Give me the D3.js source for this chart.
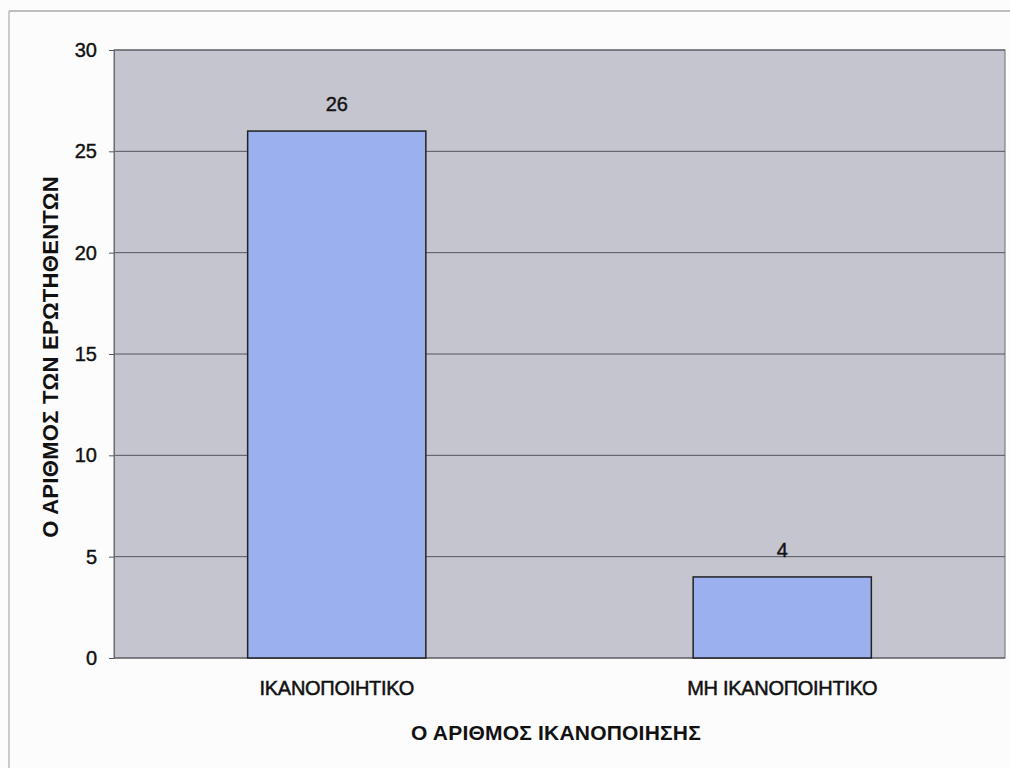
<!DOCTYPE html>
<html><head><meta charset="utf-8">
<script src="https://cdn.jsdelivr.net/npm/d3@7"></script>
<style>body{margin:0;background:#fcfcfd;}svg{display:block;}</style>
</head><body>
<script>
const categories = ["ΙΚΑΝΟΠΟΙΗΤΙΚΟ", "ΜΗ ΙΚΑΝΟΠΟΙΗΤΙΚΟ"];
const values = [26, 4];
const yTicks = [0, 5, 10, 15, 20, 25, 30];
const xTitle = "Ο ΑΡΙΘΜΟΣ ΙΚΑΝΟΠΟΙΗΣΗΣ";
const yTitle = "Ο ΑΡΙΘΜΟΣ ΤΩΝ ΕΡΩΤΗΘΕΝΤΩΝ";

const W = 1010, H = 768;
const m = {left: 114, right: 5, top: 50, bottom: 110};
const FONT = "Liberation Sans, Arial, sans-serif";
const svg = d3.select("body").append("svg").attr("width", W).attr("height", H);

// page border (scan frame)
svg.append("line").attr("x1", 9).attr("x2", 1010).attr("y1", 11).attr("y2", 11).attr("stroke", "#aaa").attr("stroke-width", 1.5);
svg.append("line").attr("x1", 9).attr("x2", 9).attr("y1", 11).attr("y2", 768).attr("stroke", "#bbb").attr("stroke-width", 1.5);

const x = d3.scaleBand().domain(categories).range([m.left, W - m.right]).paddingInner(0.6).paddingOuter(0.3);
const y = d3.scaleLinear().domain([0, 30]).range([H - m.bottom, m.top]);

// plot background
svg.append("rect").attr("x", m.left).attr("y", y(30)).attr("width", W - m.right - m.left).attr("height", y(0) - y(30))
  .attr("fill", "#c5c5d0").attr("stroke", "#6b6b75").attr("stroke-width", 1);

// gridlines
svg.append("g").selectAll("line").data(yTicks.filter(d => d > 0)).join("line")
  .attr("x1", m.left).attr("x2", W - m.right).attr("y1", d => y(d)).attr("y2", d => y(d))
  .attr("stroke", "#55555c").attr("stroke-width", 1);

// y axis
const yAxis = svg.append("g").attr("transform", `translate(${m.left},0)`)
  .call(d3.axisLeft(y).tickValues(yTicks).tickSize(5).tickPadding(12));
yAxis.select(".domain").attr("stroke", "#6b6b75");
yAxis.selectAll(".tick line").attr("stroke", "#55555c");
yAxis.selectAll("text").attr("font-family", FONT).attr("font-size", 20).attr("fill", "#111")
  .attr("stroke", "#111").attr("stroke-width", 0.4);

// x axis baseline
svg.append("line").attr("x1", m.left).attr("x2", W - m.right).attr("y1", y(0)).attr("y2", y(0)).attr("stroke", "#55555c");

// bars
svg.append("g").selectAll("rect").data(values).join("rect")
  .attr("x", (d, i) => x(categories[i])).attr("width", x.bandwidth())
  .attr("y", d => y(d)).attr("height", d => y(0) - y(d))
  .attr("fill", "#9bb0ef").attr("stroke", "#222").attr("stroke-width", 1.5);

// value labels
svg.append("g").selectAll("text").data(values).join("text")
  .attr("x", (d, i) => x(categories[i]) + x.bandwidth() / 2).attr("y", d => y(d) - 20)
  .attr("text-anchor", "middle").attr("font-family", FONT)
  .attr("font-size", 20).attr("fill", "#111").attr("stroke", "#111").attr("stroke-width", 0.4).text(d => d);

// category labels
svg.append("g").selectAll("text").data(categories).join("text")
  .attr("x", d => x(d) + x.bandwidth() / 2).attr("y", 695)
  .attr("text-anchor", "middle").attr("font-family", FONT)
  .attr("font-size", 20).attr("letter-spacing", -0.3).attr("fill", "#111")
  .attr("stroke", "#111").attr("stroke-width", 0.5).text(d => d);

// axis titles
svg.append("text").attr("x", 556).attr("y", 740).attr("text-anchor", "middle")
  .attr("font-family", FONT).attr("font-weight", "bold")
  .attr("font-size", 21).attr("letter-spacing", 0.2).attr("fill", "#111").text(xTitle);
svg.append("text").attr("transform", "translate(58,357) rotate(-90)").attr("text-anchor", "middle")
  .attr("font-family", FONT).attr("font-weight", "bold")
  .attr("font-size", 22).attr("letter-spacing", 0.3).attr("fill", "#111").text(yTitle);
</script>
</body></html>
